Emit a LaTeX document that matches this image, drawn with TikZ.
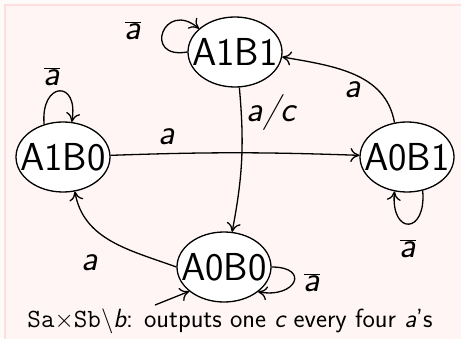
\documentclass[tikz,border=0pt]{standalone}
\usetikzlibrary{arrows.meta,shapes.geometric}

\definecolor{pagebg}{RGB}{254,250,250}
\definecolor{slidebg}{RGB}{255,245,245}
\definecolor{slideedge}{RGB}{255,222,222}

\begin{document}
\sffamily
\begin{tikzpicture}[x=1pt,y=1pt,
    state/.style={draw,ellipse,fill=white,line width=1.3pt,inner sep=0pt,
      minimum width=94pt,minimum height=70pt,font=\fontsize{39}{44}\selectfont},
    lbl/.style={inner sep=0pt,font=\fontsize{36}{40}\selectfont\itshape},
    >={To[length=9pt,width=14pt]}]
\useasboundingbox (0,0) rectangle (461,338);
\fill[pagebg] (0,0) rectangle (461,338);
\filldraw[fill=slidebg,draw=slideedge,line width=1.5pt] (5,-10) rectangle (475,333);

% the four states
\node[state] (a1b1) at (235,286) {\makebox[0pt]{A1B1}};
\node[state] (a1b0) at (63,181)  {\makebox[0pt]{A1B0}};
\node[state] (a0b1) at (407,181) {\makebox[0pt]{A0B1}};
\node[state] (a0b0) at (224,71)  {\makebox[0pt]{A0B0}};

% transitions
\begin{scope}[line width=1.3pt]
\draw[->] (a1b0) to[bend left=2] (a0b1);
\draw[->] (a1b1.-83) to[bend left=8] (a0b0.77);
\draw[->] (a0b1.110) to[out=100,in=-10] (a1b1.-6);
\draw[->] (a0b0.west) to[out=160,in=-80] (a1b0.-71);

% self loops
\draw[->] (a1b1.180) to[out=190,in=140,looseness=4.5] (a1b1.147);
\draw[->] (a1b0.120) to[out=95,in=80,looseness=4] (a1b0.76);
\draw[->] (a0b1.-65) to[out=-85,in=-95,looseness=4] (a0b1.-110);
\draw[->] (a0b0.east) to[out=0,in=-10,looseness=3.5] (a0b0.-36);

% start arrow
\coordinate (init) at (155,33);
\draw[->] (init) -- (a0b0.215);
\end{scope}

% labels
\node[lbl] (l1) at (167,201) {a};
\node[lbl] (l2) at (271,225) {a/c};
\node[lbl] (l3) at (353,248) {a};
\node[lbl] (l4) at (90,75) {a};
\node[lbl] (n1) at (133,307) {$\overline{\mbox{\itshape a}}$};
\node[lbl] (n2) at (52,261) {$\overline{\mbox{\itshape a}}$};
\node[lbl] (n3) at (408,89) {$\overline{\mbox{\itshape a}}$};
\node[lbl] (n4) at (312,55) {$\overline{\mbox{\itshape a}}$};

\node[font=\fontsize{26.3}{30}\selectfont] (note) at (230,17)
  {{\ttfamily Sa}$\times${\ttfamily Sb}$\backslash${\itshape b}: outputs one {\itshape c} every four {\itshape a}'s};
\end{tikzpicture}
\end{document}
